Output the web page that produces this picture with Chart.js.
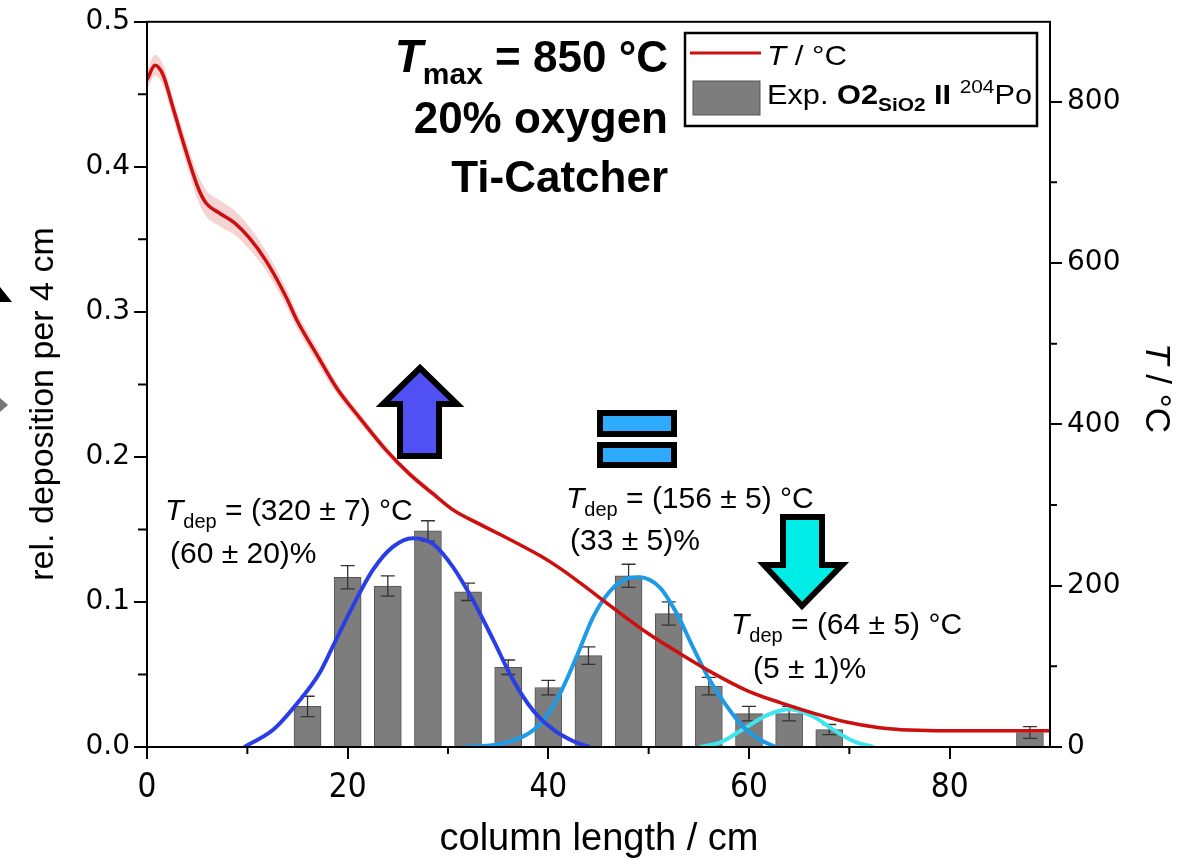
<!DOCTYPE html>
<html>
<head>
<meta charset="utf-8">
<script src="https://cdn.jsdelivr.net/npm/chart.js@4.4.1/dist/chart.umd.min.js"></script>
<style>
  html, body { margin: 0; padding: 0; background: #fff; }
  canvas { display: block; }
</style>
</head>
<body>
<canvas id="chart" width="1186" height="862"></canvas>
<script>
// deposition histogram (left axis)
const barX = [16, 20, 24, 28, 32, 36, 40, 44, 48, 52, 56, 60, 64, 68, 88];
const barY = [0.028, 0.117, 0.111, 0.149, 0.107, 0.055, 0.041, 0.063, 0.118, 0.092, 0.042, 0.023, 0.023, 0.012, 0.010];
const barErr = [0.007, 0.008, 0.007, 0.007, 0.006, 0.005, 0.005, 0.006, 0.008, 0.008, 0.006, 0.005, 0.005, 0.0035, 0.004];

// fitted peaks (left axis)
const fit1X = [9.7, 12.6, 15.2, 17.2, 18.5, 20.5, 22.5, 24.5, 26.5, 28.5, 30.5, 32.5, 34.5, 36.5, 38.5, 40.5, 42.5, 44.1];
const fit1Y = [0.000, 0.012, 0.032, 0.051, 0.069, 0.097, 0.122, 0.138, 0.144, 0.140, 0.124, 0.101, 0.074, 0.046, 0.025, 0.012, 0.004, 0.000];
const fit2X = [31.7, 35.8, 39.2, 41.1, 42.8, 44.5, 46.1, 47.8, 49.1, 51.1, 52.8, 54.4, 56.1, 57.8, 59.4, 61.1, 62.7];
const fit2Y = [0.000, 0.003, 0.016, 0.036, 0.062, 0.090, 0.107, 0.116, 0.117, 0.110, 0.092, 0.069, 0.046, 0.028, 0.014, 0.005, 0.000];
const fit3X = [55.1, 57.1, 59.8, 61.8, 64.1, 66.4, 68.4, 70.4, 72.4];
const fit3Y = [0.000, 0.003, 0.014, 0.022, 0.026, 0.021, 0.012, 0.004, 0.000];

// temperature profile (right axis) with its uncertainty band
const tempX = [0, 0.8, 1.6, 2.6, 3.9, 5.1, 5.9, 7.2, 8.7, 10.2, 11.9, 13.9, 14.9, 16.9, 18.9, 21.2, 23.9, 26.2, 28.5, 30.5, 33.2, 36.2, 39.2, 41.1, 43.1, 46.5, 49.8, 53.1, 56.5, 59.8, 63.1, 66.4, 69.7, 73, 76, 80, 85, 90];
const tempY = [827, 845, 833, 792, 738, 693, 674, 662, 650, 631, 602, 557, 530, 487, 445, 408, 367, 338, 314, 294, 276, 257, 237, 222, 204, 172, 142, 116, 91, 70, 55, 42, 31, 24, 21, 20, 20, 20];
const tempHi = [839, 858, 846, 805, 752, 709, 690, 678, 665, 645, 614, 568, 540, 496, 452, 414, 372, 342, 318, 297, 279, 259, 239, 224, 206, 174, 144, 118, 93, 72, 57, 44, 33, 26, 23, 22, 22, 22];
const tempLo = [815, 832, 820, 779, 724, 677, 658, 646, 635, 617, 590, 546, 520, 478, 438, 402, 362, 334, 310, 291, 273, 255, 235, 220, 202, 170, 140, 114, 89, 68, 53, 40, 29, 22, 19, 18, 18, 18];

// ticks
const xTicks = [0, 20, 40, 60, 80];
const xMinor = [10, 30, 50, 70];
const yTicks = [0, 0.1, 0.2, 0.3, 0.4, 0.5];
const yMinor = [0.05, 0.15, 0.25, 0.35, 0.45];
const y2Ticks = [0, 200, 400, 600, 800];
const y2Minor = [100, 300, 500, 700];

const F = "'Liberation Sans', Arial, sans-serif";
const pts = (xs, ys) => xs.map((x, i) => ({ x, y: ys[i] }));

function runsWidth(ctx, runs) {
  let w = 0;
  runs.forEach(r => { ctx.font = r.font; w += ctx.measureText(r.t).width; });
  return w;
}

// draws mixed-font text (italic T, subscripts...) on one baseline
function drawRuns(ctx, runs, x, y, align, width) {
  const w = runsWidth(ctx, runs);
  const sx = width ? width / w : 1;
  let start = x;
  if (align === 'right') start = x - w * sx;
  if (align === 'center') start = x - w * sx / 2;
  ctx.save();
  ctx.translate(start, y);
  ctx.scale(sx, 1);
  let cx = 0;
  runs.forEach(r => {
    ctx.font = r.font;
    ctx.fillText(r.t, cx, r.dy || 0);
    cx += ctx.measureText(r.t).width;
  });
  ctx.restore();
}

function poly(ctx, p, fill) {
  ctx.beginPath();
  ctx.moveTo(p[0][0], p[0][1]);
  p.slice(1).forEach(q => ctx.lineTo(q[0], q[1]));
  ctx.closePath();
  ctx.fillStyle = fill;
  ctx.fill();
}

const extras = {
  id: 'extras',
  afterDatasetDraw(chart, args) {
    if (args.index !== 0) return;
    // error bars on the histogram
    const ctx = chart.ctx, ys = chart.scales.y;
    ctx.save();
    ctx.strokeStyle = '#333';
    ctx.lineWidth = 1.3;
    args.meta.data.forEach((el, i) => {
      const top = ys.getPixelForValue(barY[i] + barErr[i]);
      const bot = ys.getPixelForValue(barY[i] - barErr[i]);
      ctx.beginPath();
      ctx.moveTo(el.x, top); ctx.lineTo(el.x, bot);
      ctx.moveTo(el.x - 7, top); ctx.lineTo(el.x + 7, top);
      ctx.moveTo(el.x - 7, bot); ctx.lineTo(el.x + 7, bot);
      ctx.stroke();
    });
    ctx.restore();
  },
  afterDraw(chart) {
    const ctx = chart.ctx, a = chart.chartArea;
    const xs = chart.scales.x, ys = chart.scales.y, y2 = chart.scales.y2;
    ctx.save();
    ctx.strokeStyle = '#000';
    ctx.lineWidth = 2;
    ctx.strokeRect(a.left, a.top, a.right - a.left, a.bottom - a.top);

    // minor ticks
    ctx.beginPath();
    xMinor.forEach(v => { const p = xs.getPixelForValue(v); ctx.moveTo(p, a.bottom); ctx.lineTo(p, a.bottom + 7); });
    yMinor.forEach(v => { const p = ys.getPixelForValue(v); ctx.moveTo(a.left - 9, p); ctx.lineTo(a.left, p); });
    y2Minor.forEach(v => { const p = y2.getPixelForValue(v); ctx.moveTo(a.right, p); ctx.lineTo(a.right + 7, p); });
    ctx.stroke();

    ctx.fillStyle = '#000';
    ctx.textAlign = 'left';
    ctx.textBaseline = 'alphabetic';

    // axis titles
    ctx.font = `38px ${F}`;
    ctx.textAlign = 'center';
    ctx.fillText('column length / cm', 599, 850);

    ctx.save();
    ctx.translate(44, 404);
    ctx.rotate(-Math.PI / 2);
    ctx.font = `34px ${F}`;
    ctx.textBaseline = 'middle';
    ctx.fillText('rel. deposition per 4 cm', 0, 0);
    ctx.restore();

    ctx.save();
    ctx.translate(1156, 388);
    ctx.rotate(Math.PI / 2);
    ctx.textAlign = 'left';
    ctx.textBaseline = 'middle';
    drawRuns(ctx, [{ t: 'T', font: `italic 35px ${F}` }, { t: ' / °C', font: `35px ${F}` }], 0, 0, 'center');
    ctx.restore();
    ctx.textAlign = 'left';

    // conditions
    const B = `bold 44px ${F}`;
    drawRuns(ctx, [{ t: 'T', font: `italic bold 46px ${F}` }, { t: 'max', font: `bold 30px ${F}`, dy: 12 }, { t: ' = 850 °C', font: B }], 668, 72, 'right');
    drawRuns(ctx, [{ t: '20% oxygen', font: B }], 668, 133, 'right');
    drawRuns(ctx, [{ t: 'Ti-Catcher', font: B }], 668, 192, 'right');

    // peak labels
    const N = `30px ${F}`, I = `italic 30px ${F}`, S = `20px ${F}`;
    const tdep = rest => [{ t: 'T', font: I }, { t: 'dep', font: S, dy: 8 }, { t: rest, font: N }];
    drawRuns(ctx, tdep(' = (320 ± 7) °C'), 165, 520, 'left');
    drawRuns(ctx, [{ t: '(60 ± 20)%', font: N }], 170, 563, 'left');
    drawRuns(ctx, tdep(' = (156 ± 5) °C'), 566, 508, 'left');
    drawRuns(ctx, [{ t: '(33 ± 5)%', font: N }], 570, 550, 'left');
    drawRuns(ctx, tdep(' = (64 ± 5) °C'), 731, 634, 'left');
    drawRuns(ctx, [{ t: '(5 ± 1)%', font: N }], 753, 678, 'left');

    // legend
    ctx.lineWidth = 2.5;
    ctx.strokeRect(685, 33, 352, 93);
    ctx.strokeStyle = '#cc1010';
    ctx.lineWidth = 3;
    ctx.beginPath(); ctx.moveTo(690, 53); ctx.lineTo(761, 53); ctx.stroke();
    ctx.fillStyle = '#7d7d7d';
    ctx.fillRect(693, 81, 67, 34);
    ctx.strokeStyle = '#555';
    ctx.lineWidth = 1;
    ctx.strokeRect(693, 81, 67, 34);
    ctx.fillStyle = '#000';
    drawRuns(ctx, [{ t: 'T', font: `italic 28px ${F}` }, { t: ' / °C', font: `28px ${F}` }], 767, 65, 'left', 80);
    drawRuns(ctx, [
      { t: 'Exp. ', font: `28px ${F}` },
      { t: 'O2', font: `bold 28px ${F}` },
      { t: 'SiO2', font: `bold 19px ${F}`, dy: 7 },
      { t: ' II', font: `bold 28px ${F}` },
      { t: ' ', font: `28px ${F}` },
      { t: '204', font: `19px ${F}`, dy: -11 },
      { t: 'Po', font: `28px ${F}` }
    ], 767, 104, 'left', 265);

    // trend symbols
    ctx.strokeStyle = '#000';
    ctx.lineWidth = 6;
    ctx.lineJoin = 'miter';
    const up = [[420, 368], [457, 404], [439, 404], [439, 456], [400, 456], [400, 404], [383, 404]];
    poly(ctx, up, '#5050f5'); ctx.stroke();
    ctx.fillStyle = '#2eaaff';
    [[600, 413, 74, 21], [600, 445, 74, 20]].forEach(r => {
      ctx.fillRect(r[0], r[1], r[2], r[3]);
      ctx.strokeRect(r[0], r[1], r[2], r[3]);
    });
    const down = [[783, 517], [822, 517], [822, 565], [842, 565], [802, 606], [764, 565], [783, 565]];
    poly(ctx, down, '#00ece6'); ctx.stroke();

    // clipped marks at the left edge
    poly(ctx, [[0, 287], [12, 302], [0, 302]], '#000');
    poly(ctx, [[0, 398], [8, 405], [0, 412]], '#777');
    ctx.restore();
  }
};

const tickFont = { family: "'DejaVu Sans', sans-serif", size: 28 };
const axisGrid = { drawOnChartArea: false, color: '#000', lineWidth: 2 };

new Chart(document.getElementById('chart'), {
  type: 'bar',
  data: {
    datasets: [
      {
        type: 'bar', data: pts(barX, barY), yAxisID: 'y', order: 6,
        backgroundColor: '#7d7d7d', borderColor: '#555', borderWidth: 1, barThickness: 27
      },
      { type: 'line', data: pts(fit1X, fit1Y), yAxisID: 'y', order: 4, borderColor: '#2a3ee6', borderWidth: 4, pointRadius: 0, cubicInterpolationMode: 'monotone', fill: false },
      { type: 'line', data: pts(fit2X, fit2Y), yAxisID: 'y', order: 4, borderColor: '#1e9be6', borderWidth: 4, pointRadius: 0, cubicInterpolationMode: 'monotone', fill: false },
      { type: 'line', data: pts(fit3X, fit3Y), yAxisID: 'y', order: 4, borderColor: '#3fe6ee', borderWidth: 4, pointRadius: 0, cubicInterpolationMode: 'monotone', fill: false },
      { type: 'line', data: pts(tempX, tempHi), yAxisID: 'y2', order: 3, borderWidth: 0, pointRadius: 0, cubicInterpolationMode: 'monotone', backgroundColor: 'rgba(225,110,110,0.3)', fill: '+1' },
      { type: 'line', data: pts(tempX, tempLo), yAxisID: 'y2', order: 3, borderWidth: 0, pointRadius: 0, cubicInterpolationMode: 'monotone', fill: false },
      { type: 'line', data: pts(tempX, tempY), yAxisID: 'y2', order: 1, borderColor: '#cc1010', borderWidth: 3.5, pointRadius: 0, cubicInterpolationMode: 'monotone', fill: false }
    ]
  },
  options: {
    responsive: false, animation: false, devicePixelRatio: 1,
    layout: { padding: { top: 20, left: 0, right: 0, bottom: 0 } },
    plugins: { legend: { display: false }, tooltip: { enabled: false } },
    scales: {
      x: {
        type: 'linear', min: 0, max: 90, offset: false,
        grid: { ...axisGrid, offset: false, tickLength: 12 },
        border: { color: '#000', width: 2 },
        ticks: { color: '#000', padding: 10, maxRotation: 0, autoSkip: false,
          font: { family: "'Liberation Sans Narrow', 'DejaVu Sans Condensed', 'Liberation Sans', sans-serif", size: 33 } },
        afterBuildTicks: s => { s.ticks = xTicks.map(v => ({ value: v })); },
        afterFit: s => { s.height = 115; }
      },
      y: {
        position: 'left', min: 0, max: 0.5,
        grid: { ...axisGrid, tickLength: 13 },
        border: { color: '#000', width: 2 },
        ticks: { color: '#000', padding: 4, font: tickFont, callback: v => v.toFixed(1) },
        afterBuildTicks: s => { s.ticks = yTicks.map(v => ({ value: v })); },
        afterFit: s => { s.width = 147; }
      },
      y2: {
        position: 'right', min: 0, max: 899,
        grid: { ...axisGrid, tickLength: 12 },
        border: { color: '#000', width: 2 },
        ticks: { color: '#000', padding: 5, font: tickFont },
        afterBuildTicks: s => { s.ticks = y2Ticks.map(v => ({ value: v })); },
        afterFit: s => { s.width = 136; }
      }
    }
  },
  plugins: [extras]
});
</script>
</body>
</html>
